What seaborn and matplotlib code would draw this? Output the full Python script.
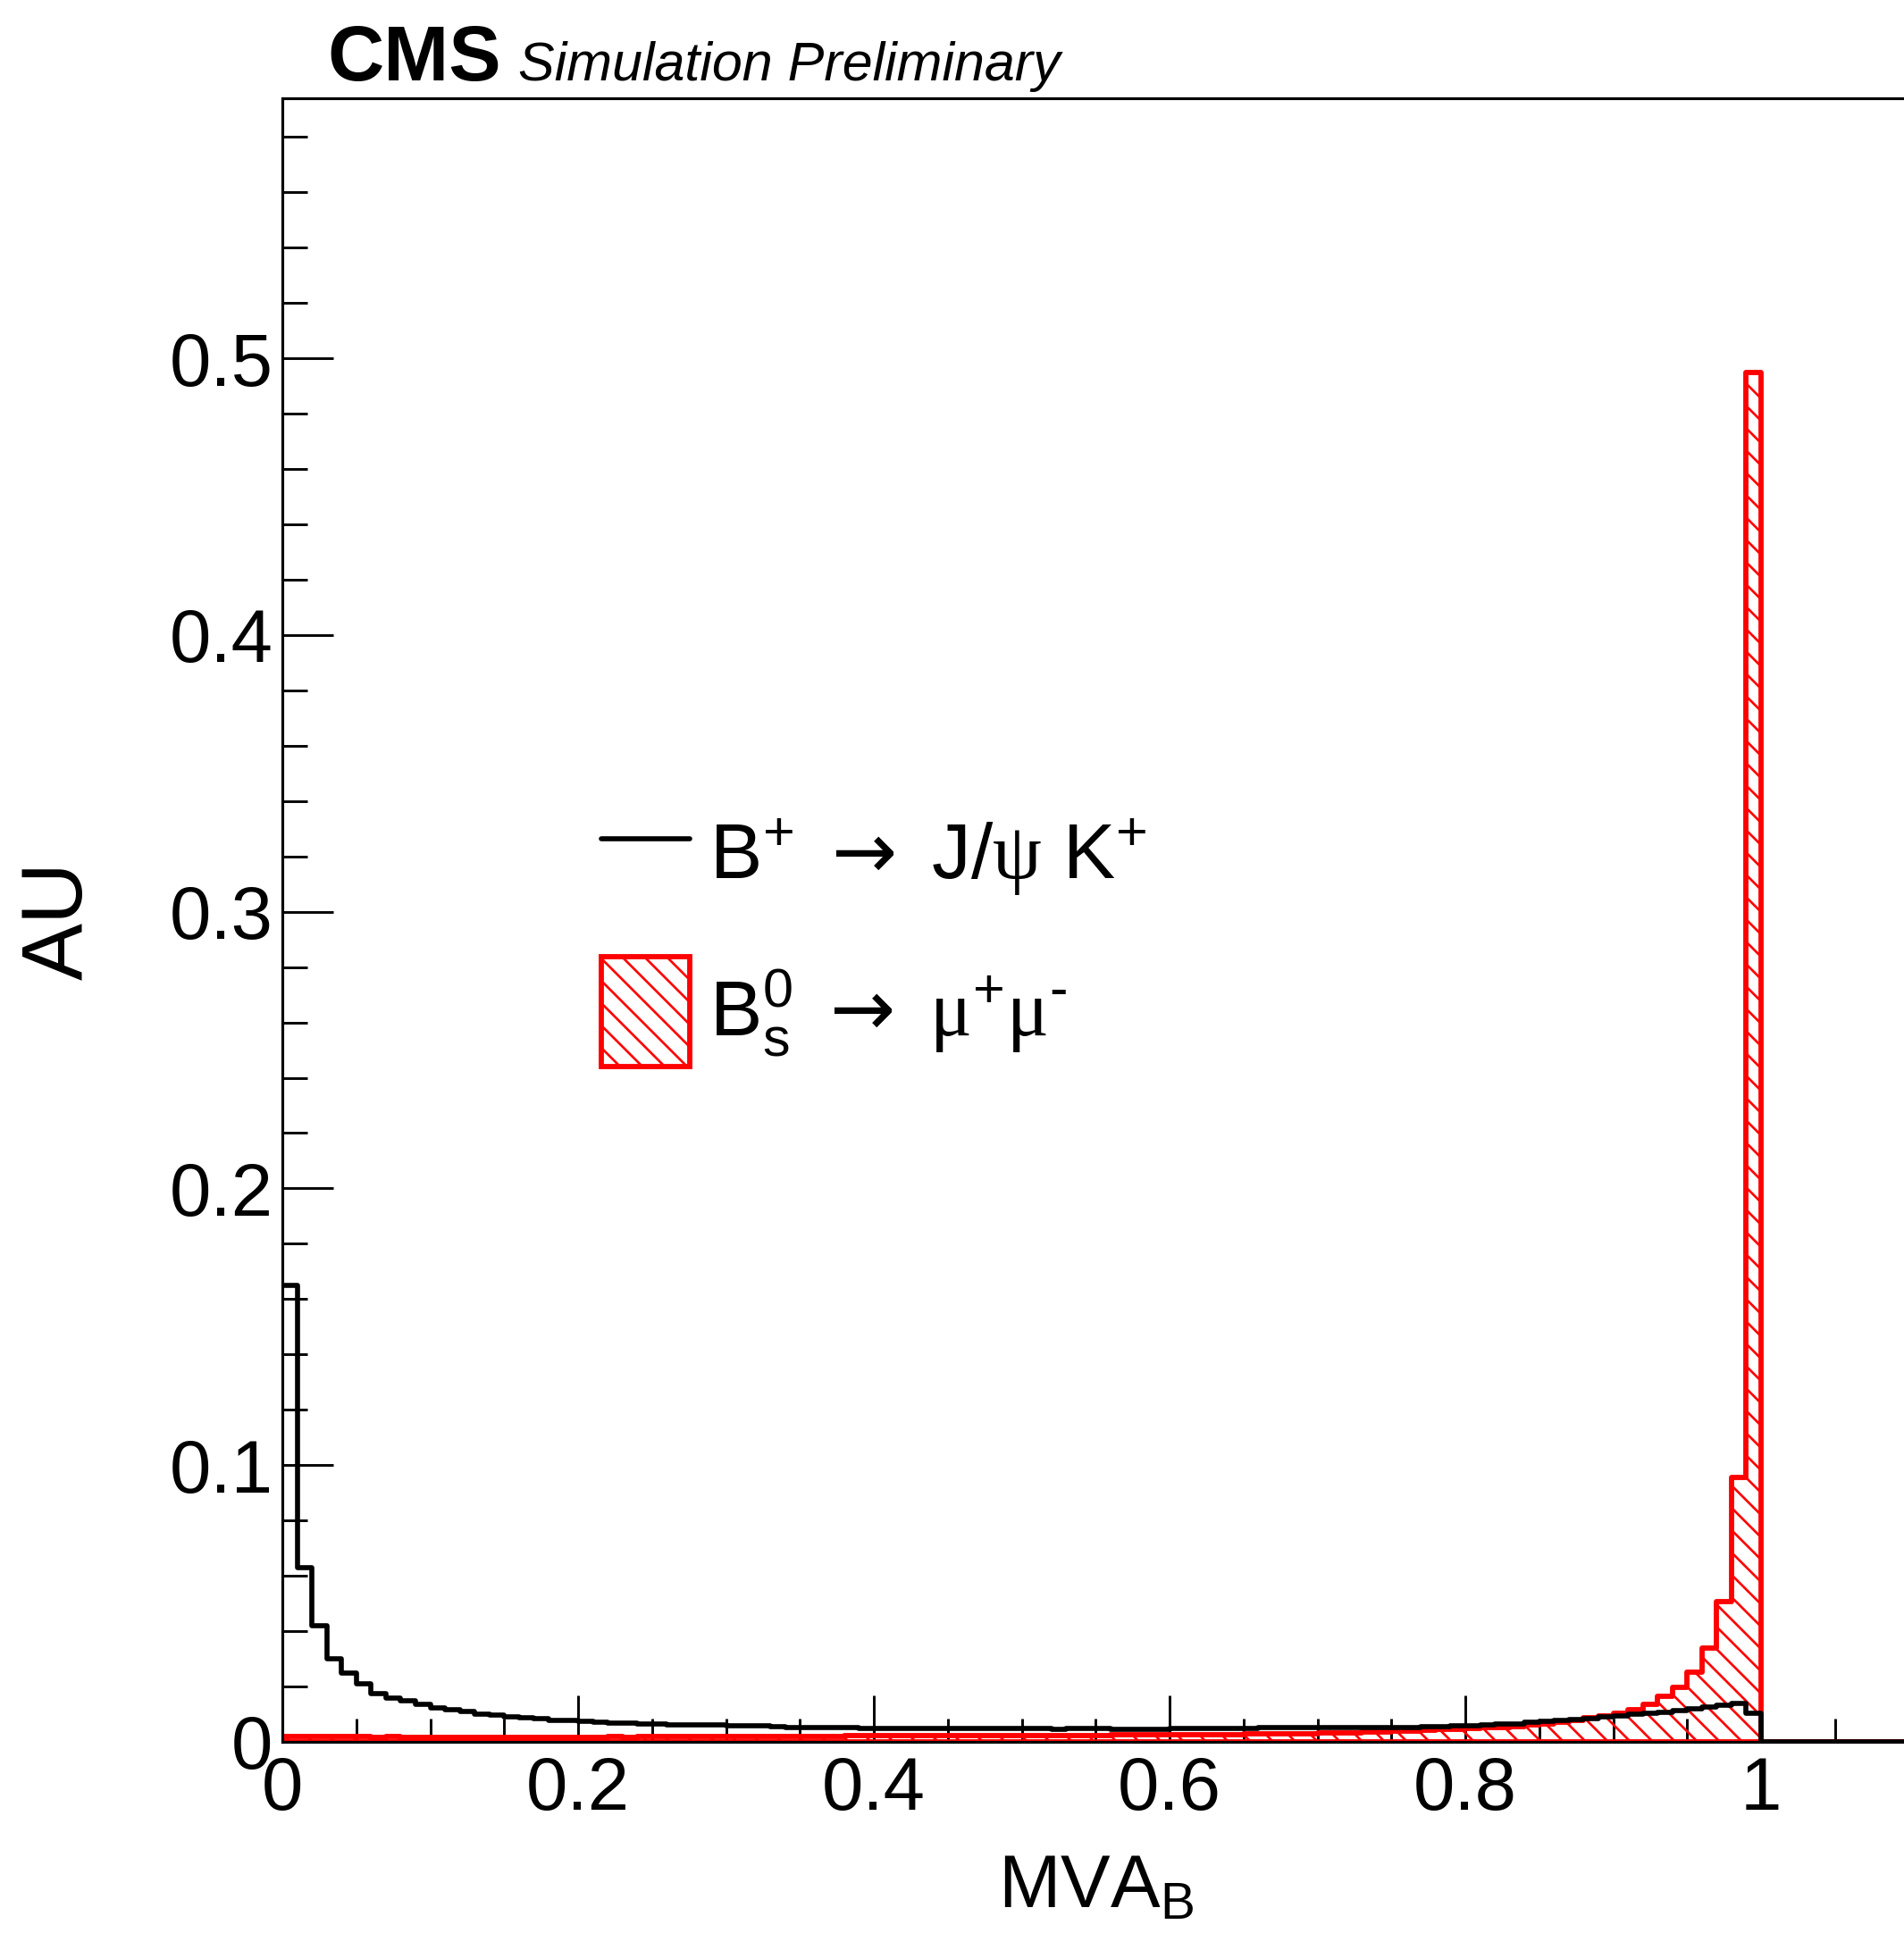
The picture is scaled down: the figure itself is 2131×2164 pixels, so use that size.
import numpy as np
import matplotlib
matplotlib.use("Agg")
import matplotlib.pyplot as plt
import seaborn as sns
from matplotlib.lines import Line2D
from matplotlib.patches import Patch
from matplotlib.ticker import MultipleLocator

# ---------------- data ----------------
bin_width = 0.01
x_max = 1.1

# B+ -> J/psi K+  (bins 0.00 ... 1.09)
bplus_vals = [
    0.165, 0.063, 0.042, 0.030, 0.025, 0.021, 0.0175, 0.0158, 0.0148, 0.0135,
    0.0124, 0.0115, 0.0110, 0.0100, 0.0096, 0.0090, 0.0088, 0.0085, 0.0078, 0.0076,
    0.0073, 0.0071, 0.0069, 0.0068, 0.0066, 0.0063, 0.0062, 0.0061, 0.0060, 0.0060,
    0.0059, 0.0058, 0.0057, 0.0054, 0.0053, 0.0053, 0.0052, 0.0052, 0.0051, 0.0048,
    0.0047, 0.0048, 0.0049, 0.0048, 0.0048, 0.0047, 0.0048, 0.0048, 0.0047, 0.0048,
    0.0048, 0.0047, 0.0046, 0.0047, 0.0048, 0.0047, 0.0046, 0.0045, 0.0044, 0.0045,
    0.0047, 0.0048, 0.0047, 0.0048, 0.0049, 0.0049, 0.0050, 0.0050, 0.0051, 0.0051,
    0.0050, 0.0050, 0.0051, 0.0052, 0.0052, 0.0053, 0.0053, 0.0054, 0.0056, 0.0057,
    0.0059, 0.0061, 0.0063, 0.0066, 0.0070, 0.0073, 0.0077, 0.0080, 0.0085, 0.0090,
    0.0095, 0.0099, 0.0104, 0.0108, 0.0114, 0.0120, 0.0125, 0.0133, 0.0138, 0.0102,
    0.0, 0.0, 0.0, 0.0, 0.0, 0.0, 0.0, 0.0, 0.0, 0.0,
]

# Bs0 -> mu+ mu-  (bins 0.00 ... 1.09)
bsmumu_vals = [
    0.0019, 0.0019, 0.0018, 0.0018, 0.0018, 0.0018, 0.0017, 0.0018, 0.0017, 0.0017,
    0.0017, 0.0017, 0.0017, 0.0016, 0.0017, 0.0017, 0.0016, 0.0017, 0.0017, 0.0017,
    0.0017, 0.0017, 0.0018, 0.0017, 0.0018, 0.0018, 0.0018, 0.0018, 0.0019, 0.0018,
    0.0019, 0.0019, 0.0019, 0.0020, 0.0019, 0.0020, 0.0020, 0.0020, 0.0021, 0.0021,
    0.0021, 0.0021, 0.0022, 0.0022, 0.0022, 0.0022, 0.0023, 0.0022, 0.0023, 0.0023,
    0.0023, 0.0023, 0.0024, 0.0024, 0.0024, 0.0024, 0.0025, 0.0025, 0.0025, 0.0026,
    0.0026, 0.0026, 0.0027, 0.0027, 0.0027, 0.0028, 0.0028, 0.0029, 0.0029, 0.0030,
    0.0031, 0.0032, 0.0033, 0.0035, 0.0036, 0.0038, 0.0040, 0.0042, 0.0044, 0.0046,
    0.0048, 0.0050, 0.0053, 0.0056, 0.0060, 0.0065, 0.0070, 0.0078, 0.0086, 0.0094,
    0.0102, 0.0116, 0.0136, 0.0163, 0.0197, 0.0253, 0.0340, 0.0507, 0.0957, 0.495,
    0.0, 0.0, 0.0, 0.0, 0.0, 0.0, 0.0, 0.0, 0.0, 0.0,
]

xtick_values = [0.0, 0.2, 0.4, 0.6, 0.8, 1.0]
xtick_labels = ["0", "0.2", "0.4", "0.6", "0.8", "1"]
ytick_values = [0.0, 0.1, 0.2, 0.3, 0.4, 0.5]
ytick_labels = ["0", "0.1", "0.2", "0.3", "0.4", "0.5"]

label_bplus = r"B$^{+}$ $\mathtt{\rightarrow}$ J/$\mathsf{\psi}$ K$^{+}$"
label_bs = r"B$_{\mathrm{s}}^{0}$ $\mathtt{\rightarrow}$ $\mathsf{\mu}^{+}\mathsf{\mu}^{\text{-}}$"

# ---------------- style ----------------
sns.set_style("ticks")
plt.rcParams["font.family"] = ["Liberation Sans", "DejaVu Sans"]
plt.rcParams["mathtext.fontset"] = "custom"
plt.rcParams["mathtext.rm"] = "Liberation Sans"
plt.rcParams["mathtext.it"] = "Liberation Sans:italic"
plt.rcParams["mathtext.bf"] = "Liberation Sans:bold"
plt.rcParams["mathtext.sf"] = "Liberation Serif"
plt.rcParams["mathtext.tt"] = "DejaVu Sans"
plt.rcParams["mathtext.fallback"] = "stix"
plt.rcParams["hatch.linewidth"] = 1.3
plt.rcParams["hatch.color"] = "red"
for key in ["text.color", "axes.labelcolor", "xtick.color", "ytick.color",
            "axes.edgecolor"]:
    plt.rcParams[key] = "black"

DPI = 150
fig = plt.figure(figsize=(2131 / DPI, 2164 / DPI), dpi=DPI)
ax = fig.add_axes([0.1483, 0.0989, 0.8543, 0.8503])

edges = [round(i * bin_width, 2) for i in range(len(bplus_vals) + 1)]
centers = [e + bin_width / 2 for e in edges[:-1]]

sns.histplot(x=centers, weights=bsmumu_vals, bins=edges, element="step",
             fill=True, color="red", facecolor=(1, 1, 1, 0), edgecolor="red",
             hatch="\\\\", linewidth=2.8, ax=ax, zorder=2)
sns.histplot(x=centers, weights=bplus_vals, bins=edges, element="step",
             fill=False, color="black", linewidth=2.7, ax=ax, zorder=3)

ax.set_xlim(0, x_max)
ax.set_ylim(0, 0.594)

ax.set_xticks(xtick_values)
ax.set_xticklabels(xtick_labels)
ax.set_yticks(ytick_values)
ax.set_yticklabels(ytick_labels)
ax.xaxis.set_minor_locator(MultipleLocator(0.05))
ax.yaxis.set_minor_locator(MultipleLocator(0.02))

ax.tick_params(axis="both", which="both", direction="in", top=False, right=False,
               width=1.4, color="black", labelcolor="black", labelsize=40)
ax.tick_params(axis="x", which="major", length=25, pad=7)
ax.tick_params(axis="x", which="minor", length=12.5)
ax.tick_params(axis="y", which="major", length=27.5, pad=5)
ax.tick_params(axis="y", which="minor", length=13.5)

for sp in ax.spines.values():
    sp.set_linewidth(1.5)
    sp.set_color("black")

ax.set_xlabel("MVA$_{\\mathrm{B}}$", fontsize=40, va="baseline", color="black")
ax.xaxis.set_label_coords(0.5, -0.101)
ax.set_ylabel("AU", fontsize=46, va="center", color="black")
ax.yaxis.set_label_coords(-0.137, 0.5)

handles = [
    Line2D([0], [0], color="black", linewidth=2.7),
    Patch(facecolor="none", edgecolor="red", hatch="\\\\", linewidth=2.8),
]
leg = ax.legend(handles, [label_bplus, label_bs], loc="upper left",
                bbox_to_anchor=(0.196, 0.574), frameon=False, fontsize=42,
                borderpad=0, borderaxespad=0, handlelength=1.13,
                handleheight=1.785, handletextpad=0.25, labelspacing=0.62)
for t in leg.get_texts():
    t.set_color("black")

fig.text(0.1717, 0.9585, "CMS", fontsize=42, fontweight="bold", va="baseline",
         color="black")
fig.text(0.272, 0.9585, "Simulation Preliminary", fontsize=29.3, style="italic",
         va="baseline", color="black")

fig.savefig("out.png", dpi=DPI)
